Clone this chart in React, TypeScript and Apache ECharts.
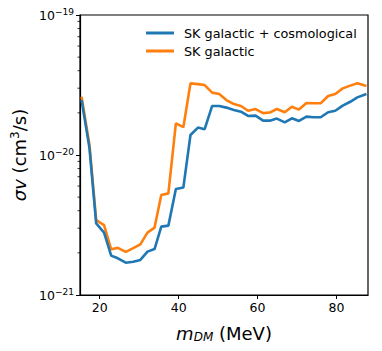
import React, { useEffect, useRef } from "react";
import * as echarts from "echarts";

const massMeV = [15.4, 17.4, 19.1, 21.1, 22.9, 24.6, 26.6, 28.5, 30.3, 32.1, 33.9, 35.6, 37.4, 39.3, 41.2, 43.0, 44.9, 46.6, 48.5, 50.3, 52.1, 54.0, 55.8, 57.6, 59.5, 61.4, 63.1, 64.9, 66.9, 68.7, 70.5, 72.4, 74.2, 76.0, 77.9, 79.7, 81.6, 83.5, 85.3, 87.6];

const galCosmo = [2.47e-20, 1.12e-20, 3.25e-21, 2.79e-21, 1.91e-21, 1.83e-21, 1.70e-21, 1.73e-21, 1.78e-21, 2.04e-21, 2.13e-21, 3.08e-21, 3.13e-21, 5.72e-21, 5.86e-21, 1.39e-20, 1.57e-20, 1.53e-20, 2.24e-20, 2.24e-20, 2.18e-20, 2.10e-20, 2.04e-20, 1.90e-20, 1.91e-20, 1.76e-20, 1.76e-20, 1.82e-20, 1.71e-20, 1.83e-20, 1.75e-20, 1.88e-20, 1.86e-20, 1.86e-20, 2.02e-20, 2.07e-20, 2.25e-20, 2.40e-20, 2.58e-20, 2.73e-20];

const galactic = [2.61e-20, 1.18e-20, 3.43e-21, 3.16e-21, 2.12e-21, 2.17e-21, 2.03e-21, 2.16e-21, 2.30e-21, 2.79e-21, 3.03e-21, 5.18e-21, 5.32e-21, 1.68e-20, 1.58e-20, 3.25e-20, 3.21e-20, 3.16e-20, 2.79e-20, 2.73e-20, 2.47e-20, 2.31e-20, 2.24e-20, 2.07e-20, 2.13e-20, 1.99e-20, 2.01e-20, 2.13e-20, 2.02e-20, 2.21e-20, 2.11e-20, 2.35e-20, 2.34e-20, 2.34e-20, 2.64e-20, 2.73e-20, 2.99e-20, 3.13e-20, 3.25e-20, 3.11e-20];

const seriesNames = ["SK galactic + cosmological", "SK galactic"];
const xTicks = [20, 40, 60, 80];
const yMin = 1e-21;
const yMax = 1e-19;
const minorTickValues = [2e-21, 3e-21, 4e-21, 5e-21, 6e-21, 7e-21, 8e-21, 9e-21, 2e-20, 3e-20, 4e-20, 5e-20, 6e-20, 7e-20, 8e-20, 9e-20];

// ECharts rounds tiny log ticks to 0, so values are plotted in units of 1e-21 cm^3/s
const UNIT = 1e-21;
const UNIT_EXP = -21;
const toUnit = (v: number) => v / UNIT;

const FONT = "DejaVu Sans";

export default function App() {
  const ref = useRef<HTMLDivElement>(null);
  useEffect(() => {
    document.body.style.margin = "0";
    const chart = echarts.init(ref.current!, null, { renderer: "svg" });
    chart.setOption({
      animation: false,
      backgroundColor: "#fff",
      textStyle: { fontFamily: FONT },
      grid: {
        left: 80,
        right: 14,
        top: 15,
        bottom: 56,
        show: true,
        borderColor: "#000",
        borderWidth: 1.2,
        backgroundColor: "transparent",
      },
      legend: {
        data: seriesNames,
        orient: "vertical",
        left: 141,
        top: 21,
        icon: "rect",
        itemWidth: 28,
        itemHeight: 3,
        itemGap: 4,
        textStyle: { fontFamily: FONT, fontSize: 12.8, color: "#000", lineHeight: 14, padding: [0, 0, 0, 5] },
      },
      xAxis: {
        type: "value",
        min: 15,
        max: 88,
        name: "{i|m}{sub|DM} (MeV)",
        nameLocation: "middle",
        nameGap: 28,
        nameTextStyle: {
          fontFamily: FONT,
          fontSize: 18,
          color: "#000",
          rich: {
            i: { fontFamily: FONT, fontStyle: "italic", fontSize: 18, color: "#000" },
            sub: { fontFamily: FONT, fontStyle: "italic", fontSize: 12, color: "#000", verticalAlign: "bottom", padding: [8, 0, 0, 0] },
          },
        },
        axisLine: { show: true, lineStyle: { color: "#000", width: 1.2 } },
        axisTick: { show: true, length: 4, customValues: xTicks, lineStyle: { color: "#000" } },
        axisLabel: { customValues: xTicks, fontFamily: FONT, fontSize: 12.5, color: "#000", margin: 6 },
        splitLine: { show: false },
      },
      yAxis: {
        type: "log",
        logBase: 10,
        min: toUnit(yMin),
        max: toUnit(yMax),
        name: "{i|σv} (cm{sup|3}/s)",
        nameLocation: "middle",
        nameRotate: 90,
        nameGap: 50,
        nameTextStyle: {
          fontFamily: FONT,
          fontSize: 18,
          color: "#000",
          rich: {
            i: { fontFamily: FONT, fontStyle: "italic", fontSize: 18, color: "#000" },
            sup: { fontFamily: FONT, fontSize: 12, color: "#000", verticalAlign: "top", padding: [0, 0, 8, 0] },
          },
        },
        axisLine: { show: true, lineStyle: { color: "#000", width: 1.2 } },
        axisTick: { show: true, length: 4, lineStyle: { color: "#000" } },
        minorTick: { show: false },
        splitLine: { show: false },
        axisLabel: {
          fontFamily: FONT,
          fontSize: 12.5,
          color: "#000",
          margin: 6,
          formatter: (v: number) => {
            const e = Math.round(Math.log10(v)) + UNIT_EXP;
            return `10{sup|−${-e}}`;
          },
          rich: {
            sup: { fontFamily: FONT, fontSize: 9, color: "#000", verticalAlign: "top", padding: [0, 0, 7, 0] },
          },
        },
      },
      series: [
        {
          name: seriesNames[0],
          type: "line",
          data: massMeV.map((m, i) => [m, toUnit(galCosmo[i])]),
          showSymbol: false,
          symbol: "none",
          lineStyle: { color: "#1f77b4", width: 2.6 },
          itemStyle: { color: "#1f77b4" },
          z: 3,
        },
        {
          name: seriesNames[1],
          type: "line",
          data: massMeV.map((m, i) => [m, toUnit(galactic[i])]),
          showSymbol: false,
          symbol: "none",
          lineStyle: { color: "#ff7f0e", width: 2.6 },
          itemStyle: { color: "#ff7f0e" },
          z: 2,
        },
        {
          name: "minorTicks",
          type: "custom",
          data: minorTickValues.map((v) => [15, toUnit(v)]),
          renderItem: (_params: any, api: any) => {
            const p = api.coord([api.value(0), api.value(1)]);
            return {
              type: "line",
              shape: { x1: p[0], y1: p[1], x2: p[0] - 2.5, y2: p[1] },
              style: { stroke: "#000", lineWidth: 0.8 },
            };
          },
          silent: true,
          z: 5,
        },
      ],
    });
    return () => chart.dispose();
  }, []);
  return <div ref={ref} style={{ width: 382, height: 351 }} />;
}
